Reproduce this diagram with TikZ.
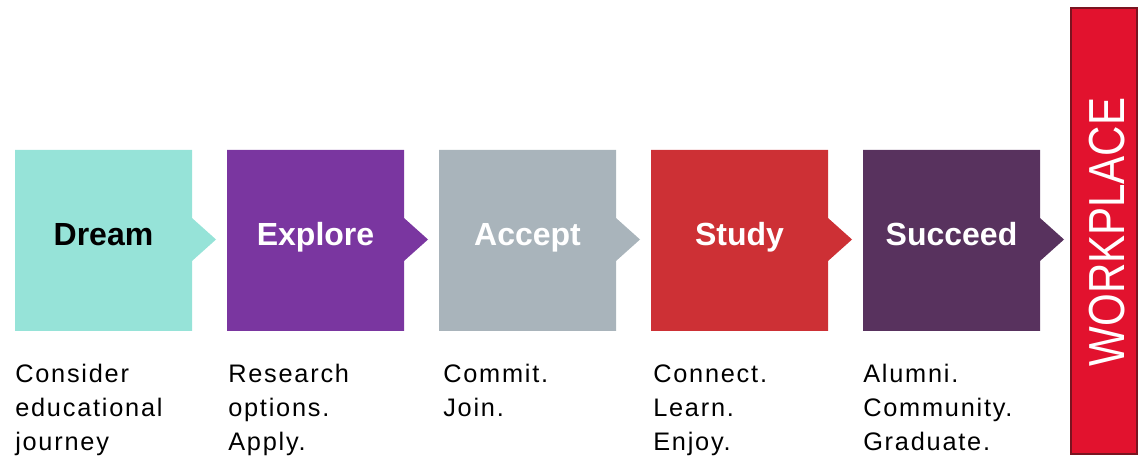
\documentclass[tikz,border=0pt]{standalone}
\usepackage{fontspec}
\setmainfont{Liberation Sans}
\definecolor{dreamc}{HTML}{96E3D8}
\definecolor{explorec}{HTML}{7A36A0}
\definecolor{acceptc}{HTML}{A9B4BB}
\definecolor{studyc}{HTML}{CD3035}
\definecolor{succeedc}{HTML}{58325E}
\definecolor{workc}{HTML}{E2122E}
\definecolor{workb}{HTML}{7A1420}
\begin{document}
\begin{tikzpicture}[x=0.75pt,y=-0.75pt,
  steplabel/.style={anchor=base,font=\bfseries\fontsize{24}{28}\selectfont},
  stepdesc/.style={anchor=north west,inner sep=0pt,align=left,
    font=\fontsize{19}{25.5}\selectfont\addfontfeature{LetterSpace=7}}]
\useasboundingbox (0,0) rectangle (1138,459);
\foreach \i/\x/\dx/\col/\tcol/\lab/\desc in {
  1/15/15/dreamc/black/Dream/{Consider\\educational\\journey},
  2/227/228/explorec/white/Explore/{Research\\options.\\Apply.},
  3/439/443/acceptc/white/Accept/{Commit.\\Join.},
  4/651/653/studyc/white/Study/{Connect.\\Learn.\\Enjoy.},
  5/863/863/succeedc/white/Succeed/{Alumni.\\Community.\\Graduate.}}{
  \fill[\col] (\x,150) -- ++(177,0) -- ++(0,68) -- ++(24,21.5) -- ++(-24,21.5)
     -- ++(0,70) -- ++(-177,0) -- cycle;
  \node[steplabel,text=\tcol] (lab-\i) at (\x+88.5,246) {\lab};
  \node[stepdesc] (desc-\i) at (\dx,358) {\strut\desc};
}
\draw[workb,fill=workc,line width=1.5pt] (1071,8) rectangle (1137,454);
\node[rotate=90,text=white,font=\fontsize{38}{40}\selectfont] (work) at (1107,232)
  {\scalebox{0.83}[1]{WORKPLACE}};
\end{tikzpicture}
\end{document}
